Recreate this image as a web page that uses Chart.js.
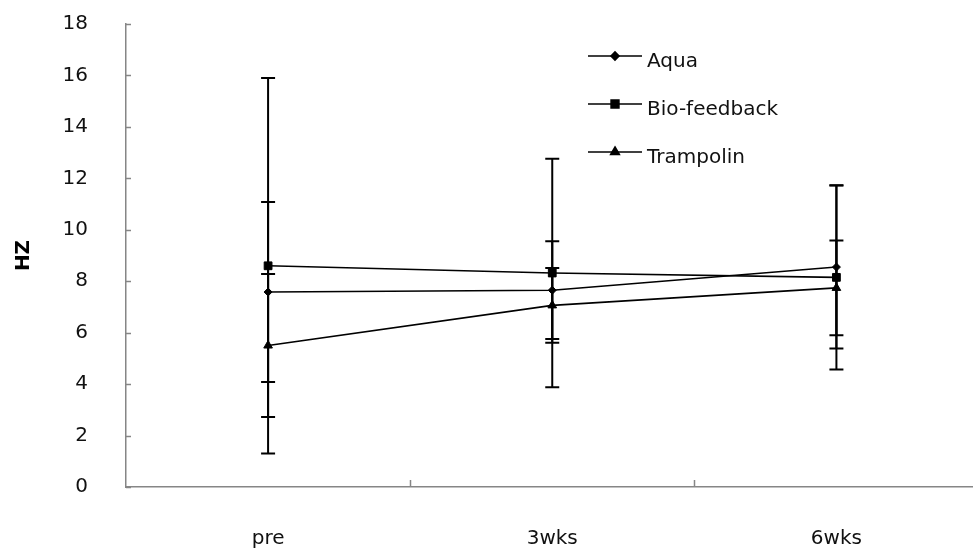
<!DOCTYPE html>
<html>
<head>
<meta charset="utf-8">
<script src="https://cdn.jsdelivr.net/npm/chart.js@4.4.1/dist/chart.umd.min.js"></script>
<style>
  html, body { margin: 0; padding: 0; background: #fff; overflow: hidden; }
  #wrap { width: 985px; height: 552px; }
</style>
</head>
<body>
<div id="wrap"><canvas id="c" width="985" height="552"></canvas></div>
<script>
// ---- data ----
const categories = ['pre', '3wks', '6wks'];
const seriesNames = ['Aqua', 'Bio-feedback', 'Trampolin'];
const aquaValues = [7.58, 7.65, 8.55];
const aquaErrors = [3.5, 1.9, 3.17];
const bioValues = [8.6, 8.32, 8.15];
const bioErrors = [7.3, 4.44, 3.58];
const trampValues = [5.5, 7.06, 7.74];
const trampErrors = [2.78, 1.45, 1.84];
const yTickMin = 0, yTickMax = 18, yTickStep = 2;
const yTitle = 'HZ';

const FONT = '"DejaVu Sans", Verdana, sans-serif';

const errorBarPlugin = {
  id: 'errorBars',
  beforeDatasetsDraw(chart) {
    const ctx = chart.ctx;
    const y = chart.scales.y;
    ctx.save();
    ctx.strokeStyle = '#000';
    ctx.lineWidth = 2;
    chart.data.datasets.forEach((ds, di) => {
      const meta = chart.getDatasetMeta(di);
      meta.data.forEach((pt, i) => {
        const v = ds.data[i], e = ds.errors[i];
        const yt = y.getPixelForValue(v + e), yb = y.getPixelForValue(v - e);
        const x = pt.x;
        ctx.beginPath();
        ctx.moveTo(x, yt); ctx.lineTo(x, yb);
        ctx.moveTo(x - 7, yt); ctx.lineTo(x + 7, yt);
        ctx.moveTo(x - 7, yb); ctx.lineTo(x + 7, yb);
        ctx.stroke();
      });
    });
    ctx.restore();
  }
};

const axisTicksPlugin = {
  id: 'inwardTicks',
  afterDraw(chart) {
    const ctx = chart.ctx;
    const ca = chart.chartArea;
    const ys = chart.scales.y, xs = chart.scales.x;
    ctx.save();
    ctx.strokeStyle = '#868686';
    ctx.lineWidth = 1.5;
    ctx.beginPath();
    ys.ticks.forEach(t => {
      const py = Math.round(ys.getPixelForValue(t.value)) + 0.5;
      ctx.moveTo(ca.left, py); ctx.lineTo(ca.left + 5, py);
    });
    for (let i = 1; i < xs.ticks.length; i++) {
      const px = Math.round((xs.getPixelForTick(i - 1) + xs.getPixelForTick(i)) / 2) + 0.5;
      ctx.moveTo(px, ca.bottom); ctx.lineTo(px, ca.bottom - 7);
    }
    ctx.stroke();
    ctx.restore();
  }
};

const legendPlugin = {
  id: 'customLegend',
  afterDraw(chart) {
    const ctx = chart.ctx;
    const ca = chart.chartArea;
    const x0 = ca.left + 462, x1 = ca.left + 516;
    ctx.save();
    chart.data.datasets.forEach((ds, i) => {
      const yy = ca.top + 32 + i * 48;
      ctx.strokeStyle = '#000';
      ctx.lineWidth = 1.6;
      ctx.beginPath(); ctx.moveTo(x0, yy); ctx.lineTo(x1, yy); ctx.stroke();
      ctx.fillStyle = '#000';
      Chart.helpers.drawPoint(ctx, {
        pointStyle: ds.pointStyle, radius: ds.pointRadius, rotation: 0, borderWidth: 1
      }, (x0 + x1) / 2, yy);
      ctx.font = '20px ' + FONT;
      ctx.fillStyle = '#111';
      ctx.textBaseline = 'middle';
      ctx.textAlign = 'left';
      ctx.fillText(ds.label, x1 + 5, yy + 6);
    });
    ctx.restore();
  }
};

function mk(label, data, errors, style, r) {
  return {
    label, data, errors,
    borderColor: '#000', backgroundColor: '#000',
    borderWidth: 1.6,
    pointStyle: style, pointRadius: r, pointHoverRadius: r,
    pointBackgroundColor: '#000', pointBorderColor: '#000', pointBorderWidth: 1,
    tension: 0, fill: false
  };
}

new Chart(document.getElementById('c'), {
  type: 'line',
  data: {
    labels: categories,
    datasets: [
      mk(seriesNames[0], aquaValues, aquaErrors, 'rectRot', 4),
      mk(seriesNames[1], bioValues, bioErrors, 'rect', 5.5),
      mk(seriesNames[2], trampValues, trampErrors, 'triangle', 5)
    ]
  },
  options: {
    responsive: false,
    animation: false,
    events: [],
    layout: { padding: { top: 24, right: 4, left: 0, bottom: 0 } },
    plugins: { legend: { display: false }, tooltip: { enabled: false } },
    scales: {
      x: {
        offset: true,
        grid: { display: false, drawTicks: false },
        border: { display: true, color: '#868686', width: 1.5 },
        ticks: { color: '#111', font: { family: FONT, size: 20 }, padding: 40, maxRotation: 0 },
        afterFit(s) { s.height = 65; }
      },
      y: {
        min: yTickMin, max: yTickMax,
        grid: { display: true, drawOnChartArea: false, drawTicks: true, tickLength: 38, color: 'rgba(0,0,0,0)' },
        border: { display: true, color: '#868686', width: 1.5 },
        ticks: { stepSize: yTickStep, color: '#111', font: { family: FONT, size: 20 }, padding: 0 },
        title: { display: true, text: yTitle, color: '#000', font: { family: FONT, size: 20, weight: 'bold' }, padding: { top: 12, bottom: 0 } },
        afterFit(s) { s.width = 126; }
      }
    }
  },
  plugins: [errorBarPlugin, axisTicksPlugin, legendPlugin]
});
</script>
</body>
</html>
